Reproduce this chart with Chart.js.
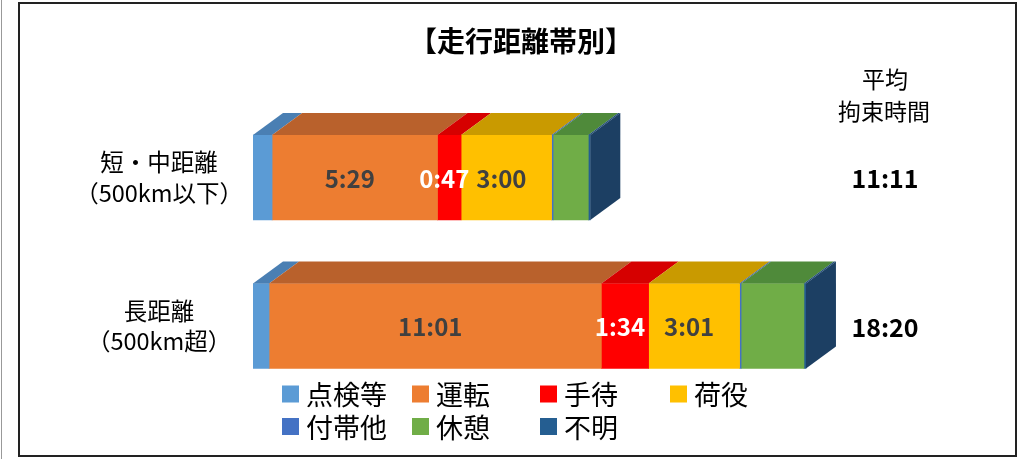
<!DOCTYPE html>
<html>
<head>
<meta charset="utf-8">
<script src="https://cdn.jsdelivr.net/npm/chart.js@4/dist/chart.umd.min.js"></script>
<style>
  html,body{margin:0;padding:0;background:#fff;}
  #wrap{position:relative;width:1021px;height:459px;}
</style>
</head>
<body>
<div id="wrap"><canvas id="c"></canvas></div>
<script>
// ---- data (minutes) ----
const categories = [['短・中距離', '（500km以下）'], ['長距離', '（500km超）']];
const seriesNames = ['点検等', '運転', '手待', '荷役', '付帯他', '休憩', '不明'];
const inspection = [38, 32];
const driving = [329, 661];
const waiting = [47, 94];
const loading = [180, 181];
const incidental = [3, 3];
const rest = [70, 125];
const unknown = [4, 4];
const labelledSeries = ['運転', '手待', '荷役'];
const titleText = '【走行距離帯別】';
const totalHeader = ['平均', '拘束時間'];

// ---- styles ----
const frontColors = ['#5B9BD5', '#ED7D31', '#FF0000', '#FFC000', '#4472C4', '#70AD47', '#255E91'];
const topColors = ['#4A7FB3', '#B9612C', '#D60000', '#C99A00', '#3A5FA3', '#4F8A3A', '#1E4B77'];
const sideColor = '#1C3F63';
const labelColors = {'運転': '#404040', '手待': '#FFFFFF', '荷役': '#404040'};
const DX = 30, DY = 22;
const FONT = "'Noto Sans CJK JP', 'Noto Sans', sans-serif";

const values = [inspection, driving, waiting, loading, incidental, rest, unknown];
const fmt = m => Math.floor(m / 60) + ':' + String(m % 60).padStart(2, '0');

const datasets = seriesNames.map((name, i) => ({
  label: name,
  data: values[i],
  backgroundColor: frontColors[i],
  borderWidth: 0,
  barThickness: 85
}));

const framePlugin = {
  id: 'frame',
  beforeDraw(chart) {
    const ctx = chart.ctx;
    ctx.save();
    ctx.fillStyle = '#fff';
    ctx.fillRect(0, 0, chart.width, chart.height);
    ctx.strokeStyle = '#999';
    ctx.lineWidth = 1;
    ctx.beginPath(); ctx.moveTo(1.5, 0); ctx.lineTo(1.5, chart.height); ctx.stroke();
    ctx.strokeStyle = '#222';
    ctx.lineWidth = 2;
    ctx.strokeRect(19, 3, 997, 453);
    ctx.restore();
  }
};

const bar3dPlugin = {
  id: 'bar3d',
  afterDatasetsDraw(chart) {
    const ctx = chart.ctx;
    ctx.save();
    const n = chart.data.datasets.length;
    // top faces
    for (let d = 0; d < n; d++) {
      const meta = chart.getDatasetMeta(d);
      meta.data.forEach(el => {
        const p = el.getProps(['x', 'y', 'base', 'height'], true);
        const top = p.y - p.height / 2;
        const x0 = Math.min(p.base, p.x), x1 = Math.max(p.base, p.x);
        if (x1 - x0 <= 0) return;
        ctx.fillStyle = topColors[d];
        ctx.beginPath();
        ctx.moveTo(x0, top);
        ctx.lineTo(x0 + DX, top - DY);
        ctx.lineTo(x1 + DX, top - DY);
        ctx.lineTo(x1, top);
        ctx.closePath();
        ctx.fill();
      });
    }
    // side face of the last segment
    const meta = chart.getDatasetMeta(n - 1);
    meta.data.forEach(el => {
      const p = el.getProps(['x', 'y', 'base', 'height'], true);
      const top = p.y - p.height / 2, bot = p.y + p.height / 2;
      const x1 = Math.max(p.base, p.x);
      ctx.fillStyle = sideColor;
      ctx.beginPath();
      ctx.moveTo(x1, top);
      ctx.lineTo(x1 + DX, top - DY);
      ctx.lineTo(x1 + DX, bot - DY);
      ctx.lineTo(x1, bot);
      ctx.closePath();
      ctx.fill();
    });
    // data labels
    ctx.font = 'bold 24px ' + FONT;
    ctx.textAlign = 'center';
    ctx.textBaseline = 'middle';
    chart.data.datasets.forEach((ds, d) => {
      if (!labelledSeries.includes(ds.label)) return;
      chart.getDatasetMeta(d).data.forEach((el, i) => {
        const p = el.getProps(['x', 'y', 'base'], true);
        ctx.fillStyle = labelColors[ds.label];
        ctx.fillText(fmt(ds.data[i]), (p.x + p.base) / 2 - 5, p.y + 1);
      });
    });
    ctx.restore();
  },
  afterDraw(chart) {
    const ctx = chart.ctx;
    ctx.save();
    ctx.fillStyle = '#000';
    ctx.textAlign = 'center';
    ctx.textBaseline = 'middle';
    // title
    ctx.font = 'bold 28px ' + FONT;
    ctx.fillText(titleText, 521, 41);
    // totals column
    ctx.font = '23px ' + FONT;
    ctx.fillText(totalHeader[0], 885, 79);
    ctx.fillText(totalHeader[1], 884, 111);
    ctx.font = 'bold 25px ' + FONT;
    const yScale = chart.scales.y;
    chart.data.labels.forEach((lab, i) => {
      const total = chart.data.datasets.reduce((s, ds) => s + ds.data[i], 0);
      ctx.fillText(fmt(total), 885, yScale.getPixelForValue(i) + 1);
    });
    // legend
    const cols = [282, 412, 540, 670];
    const rows = [394, 426.5];
    ctx.font = '27px ' + FONT;
    ctx.textAlign = 'left';
    chart.data.datasets.forEach((ds, d) => {
      const cx = cols[d % 4], cy = rows[Math.floor(d / 4)];
      ctx.fillStyle = ds.backgroundColor;
      ctx.fillRect(cx, cy - 8.5, 17, 17);
      ctx.fillStyle = '#000';
      ctx.fillText(ds.label, cx + 24, cy + 1);
    });
    ctx.restore();
  }
};

new Chart(document.getElementById('c'), {
  type: 'bar',
  data: { labels: categories, datasets },
  options: {
    indexAxis: 'y',
    responsive: true,
    maintainAspectRatio: false,
    animation: false,
    layout: { padding: { left: 0, right: 114.5, top: 103.25, bottom: 58.75 } },
    scales: {
      x: { stacked: true, display: false, min: 0, max: 1300 },
      y: {
        stacked: true,
        grid: { display: false, drawTicks: false },
        border: { display: false },
        afterFit(scale) { scale.width = 253; },
        ticks: {
          crossAlign: 'center',
          padding: 10,
          color: '#000',
          font: { family: FONT, size: 23.5, lineHeight: 1.3 }
        }
      }
    },
    plugins: {
      legend: { display: false },
      tooltip: { enabled: false },
      title: { display: false }
    }
  },
  plugins: [framePlugin, bar3dPlugin]
});
</script>
</body>
</html>
